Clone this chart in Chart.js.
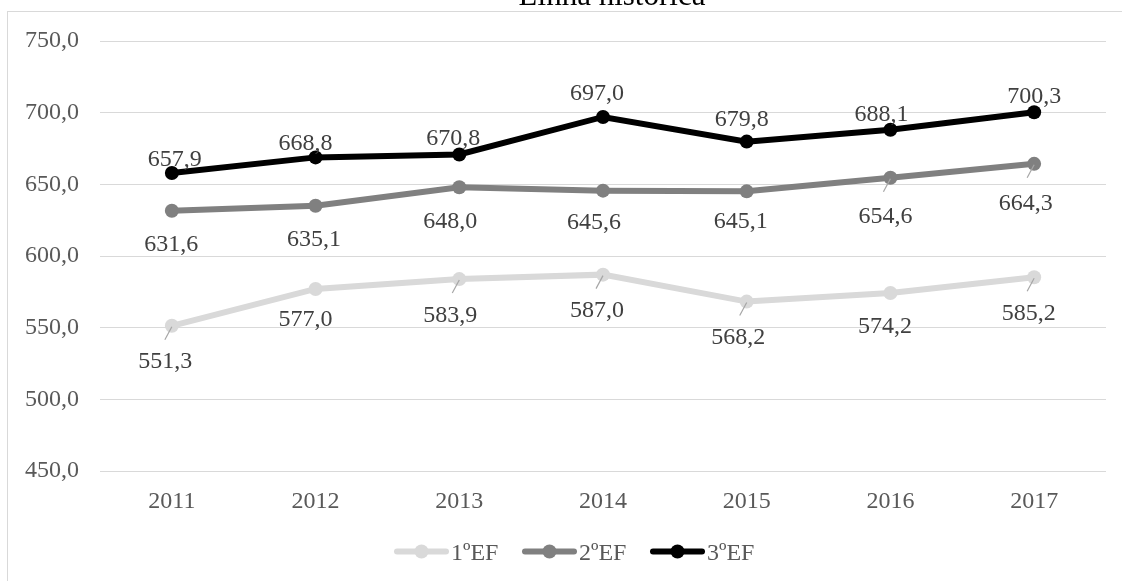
<!DOCTYPE html>
<html>
<head>
<meta charset="utf-8">
<script src="https://cdn.jsdelivr.net/npm/chart.js@4/dist/chart.umd.min.js"></script>
<style>
  html, body { margin: 0; padding: 0; background: #fff; }
  canvas { display: block; }
</style>
</head>
<body>
<canvas id="grafico" width="1122" height="581"></canvas>
<script>
const anos = ['2011', '2012', '2013', '2014', '2015', '2016', '2017'];
const serie1 = [551.3, 577.0, 583.9, 587.0, 568.2, 574.2, 585.2];
const serie2 = [631.6, 635.1, 648.0, 645.6, 645.1, 654.6, 664.3];
const serie3 = [657.9, 668.8, 670.8, 697.0, 679.8, 688.1, 700.3];
const nomesSeries = ['1ºEF', '2ºEF', '3ºEF'];

const FONTE = 'Liberation Serif, Times New Roman, serif';
const TAM = 24;
const cores = ['#d9d9d9', '#808080', '#000000'];

// deslocamento de cada rótulo em relação ao ponto [dx, dy] e se leva linha de chamada
const posRotulos = [
  [[-6.5, 34], [-10, 29.5], [-9, 35], [-6, 34.5], [-8.5, 34], [-5.5, 32.5], [-5.5, 35]],
  [[-0.5, 32], [-1.5, 32], [-9, 32.5], [-9, 30], [-6, 29], [-5, 37.5], [-8.5, 38]],
  [[3, -15], [-10, -15], [-6, -18], [-6, -25], [-5, -24], [-9, -16.5], [0, -17]]
];
const chamadas = [
  [true, false, true, true, true, false, true],
  [false, false, false, false, false, true, true],
  [false, false, false, false, false, false, false]
];

function formatar(v) {
    return v.toFixed(1).replace('.', ',');
}

// moldura, título cortado no topo e legenda
const moldura = {
    id: 'moldura',
    beforeDraw(chart) {
        const ctx = chart.ctx;
        ctx.save();
        ctx.fillStyle = '#fff';
        ctx.fillRect(0, 0, chart.width, chart.height);
        ctx.strokeStyle = '#d9d9d9';
        ctx.lineWidth = 1;
        ctx.strokeRect(7.5, 11.5, 1300, 700);
        ctx.restore();
    },
    afterDraw(chart) {
        const ctx = chart.ctx;
        ctx.save();
        ctx.fillStyle = '#000';
        ctx.font = '31px ' + FONTE;
        ctx.textAlign = 'center';
        ctx.textBaseline = 'alphabetic';
        ctx.fillText('Linha histórica', 612, 5);

        // legenda
        ctx.font = TAM + 'px ' + FONTE;
        ctx.textAlign = 'left';
        let x = 394;
        const y = 551.5;
        chart.data.datasets.forEach(ds => {
            ctx.strokeStyle = ds.borderColor;
            ctx.lineWidth = 6;
            ctx.lineCap = 'round';
            ctx.beginPath();
            ctx.moveTo(x + 3, y);
            ctx.lineTo(x + 52, y);
            ctx.stroke();
            ctx.fillStyle = ds.borderColor;
            ctx.beginPath();
            ctx.arc(x + 27.5, y, 7, 0, Math.PI * 2);
            ctx.fill();
            ctx.fillStyle = '#595959';
            ctx.fillText(ds.label, x + 57, y + 8);
            x += 128;
        });
        ctx.restore();
    }
};

// rótulos de valor com linhas de chamada
const rotulos = {
    id: 'rotulos',
    afterDatasetsDraw(chart) {
        const ctx = chart.ctx;
        ctx.save();
        ctx.font = TAM + 'px ' + FONTE;
        ctx.textAlign = 'center';
        ctx.textBaseline = 'alphabetic';
        chart.data.datasets.forEach((ds, i) => {
            const meta = chart.getDatasetMeta(i);
            meta.data.forEach((pt, j) => {
                const [dx, dy] = posRotulos[i][j];
                if (chamadas[i][j]) {
                    ctx.strokeStyle = '#a6a6a6';
                    ctx.lineWidth = 1.2;
                    ctx.beginPath();
                    ctx.moveTo(pt.x, pt.y + 1);
                    ctx.lineTo(pt.x - 7, pt.y + 14);
                    ctx.stroke();
                }
                ctx.fillStyle = '#404040';
                ctx.fillText(formatar(ds.data[j]), pt.x + dx, pt.y + dy + 8);
            });
        });
        ctx.restore();
    }
};

const dados = [serie1, serie2, serie3];

new Chart(document.getElementById('grafico').getContext('2d'), {
    type: 'line',
    data: {
        labels: anos,
        datasets: dados.map((d, i) => ({
            label: nomesSeries[i],
            data: d,
            borderColor: cores[i],
            backgroundColor: cores[i],
            borderWidth: 6,
            pointRadius: 7,
            pointBorderWidth: 0,
            pointBackgroundColor: cores[i],
            tension: 0,
            fill: false
        }))
    },
    options: {
        responsive: false,
        animation: false,
        devicePixelRatio: 1,
        layout: { padding: { top: 41, right: 16, bottom: 0, left: 0 } },
        plugins: {
            legend: { display: false },
            title: { display: false },
            tooltip: { enabled: false }
        },
        scales: {
            x: {
                offset: true,
                grid: { display: false, drawTicks: false },
                border: { display: false },
                ticks: { color: '#595959', font: { family: FONTE, size: TAM }, padding: 16 },
                afterFit(s) { s.height = 110; }
            },
            y: {
                min: 450,
                max: 750,
                ticks: {
                    stepSize: 50,
                    color: '#595959',
                    font: { family: FONTE, size: TAM },
                    padding: 21,
                    callback: v => formatar(v)
                },
                grid: { color: '#d9d9d9', lineWidth: 1, drawTicks: false },
                border: { display: false },
                afterFit(s) { s.width = 100; }
            }
        }
    },
    plugins: [moldura, rotulos]
});
</script>
</body>
</html>
